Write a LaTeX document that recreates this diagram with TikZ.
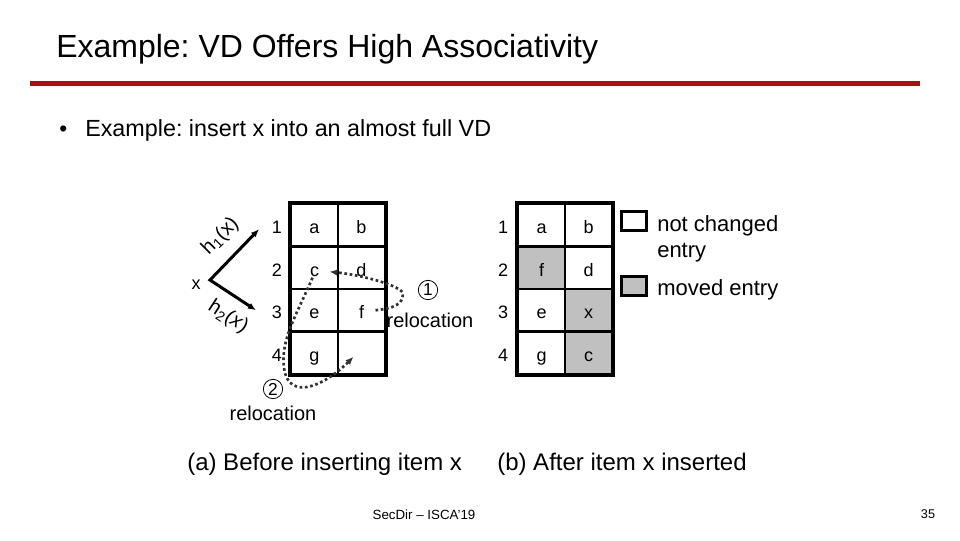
\documentclass[tikz,border=0pt]{standalone}
\usepackage{fontspec}
\setmainfont{Liberation Sans}
\usetikzlibrary{arrows.meta,matrix,calc}
\definecolor{slidered}{RGB}{168,14,20}
\definecolor{moved}{RGB}{192,192,192}
\definecolor{dotgray}{RGB}{50,50,50}
\frenchspacing

\begin{document}
\begin{tikzpicture}[x=0.75pt, y=-0.75pt, inner sep=0pt, >={Latex[length=6pt,width=5pt]},
	tbl/.style={matrix of nodes, nodes in empty cells, column sep=-2pt, row sep=-2pt, nodes={draw, line width=2pt, minimum width=35.25pt, minimum height=31.9pt, anchor=center, font=\fontsize{13.5}{16}\selectfont, text height=13pt, text depth=0pt}},
	rowlbl/.style={font=\fontsize{13.5}{16}\selectfont, text height=13pt, text depth=0pt, anchor=center},
	harrow/.style={<->, line width=2.25pt},
	moveline/.style={->, dotgray, line width=2pt, dotted},
	legbox/.style={draw, line width=2.25pt, minimum width=18.75pt, minimum height=14.25pt},
	legtxt/.style={font=\fontsize{16.5}{20}\selectfont, align=left},
	relabel/.style={font=\fontsize{15}{18}\selectfont},
	circ/.style={draw, circle, line width=0.6pt, minimum size=14.5pt, font=\fontsize{13}{15}\selectfont},
	caption/.style={font=\fontsize{18}{21}\selectfont, anchor=base west}]
	\useasboundingbox (0,0) rectangle (960,540);
	\fill[white] (0,0) rectangle (960,540);
	% title and point
	\node[anchor=base west, font=\fontsize{24}{28}\selectfont] (title) at (56,57) {Example: VD Offers High Associativity};
	\draw[slidered, line width=3.4pt] (30,83.5) -- (920,83.5);
	\node[anchor=base west, font=\fontsize{17}{20}\selectfont] (blt) at (59,136) {•};
	\node[anchor=base west, font=\fontsize{17.5}{20}\selectfont] (point) at (85,136) {Example: insert x into an almost full VD};
	% (a) before
	\matrix (L) [tbl] at (338,289) {
		a & b \\
		c & d \\
		e & f \\
		g & \\
	};
	\draw[line width=3pt] (L-1-1.north west) rectangle (L-4-2.south east);
	\foreach \r in {1,...,4}
		\node[rowlbl] (Ll\r) at ($(L-\r-1.center)+(-37.5,0)$) {\r};
	\node[rowlbl] (item) at (196,281) {x};
	\draw[harrow] ($(Ll1.center)+(-18,4)$) -- ($(item.center)+(14,-1)$) -- ($(Ll3.center)+(-21,0)$);
	\node[rowlbl, font=\fontsize{15}{18}\selectfont, rotate=45] (hone) at (218,234) {h\textsubscript{1}(x)};
	\node[rowlbl, font=\fontsize{15}{18}\selectfont, rotate=-33] (htwo) at (230,314) {h\textsubscript{2}(\textit{x})};
	\draw[moveline] ($(L-3-2.center)+(14,0)$) .. controls +(18,-2) and +(2,12) .. ($(L-3-2.center)+(41,-18)$) .. controls +(-6,-8) and +(30,3) .. ($(L-2-1.center)+(15,4)$);
	\draw[moveline] ($(L-2-1.center)+(-2,10)$) .. controls +(-15,35) and +(0,-25) .. ($(L-4-1.center)+(-31,7)$) .. controls +(0,45) and +(-30,30) .. ($(L-4-2.center)+(-8,4)$);
	\node[circ] (stepA) at (428,290) {1};
	\node[relabel] (relocA) at (430,320) {relocation};
	\node[circ] (stepB) at (273,389) {2};
	\node[relabel] (relocB) at (273,413) {relocation};
	\node[caption] (capA) at (187,470) {(a) Before inserting item x};
	% (b) after
	\matrix (R) [tbl] at (565,289) {
		a & b \\
		|[fill=moved]| f & d \\
		e & |[fill=moved]| x \\
		g & |[fill=moved]| c \\
	};
	\draw[line width=3pt] (R-1-1.north west) rectangle (R-4-2.south east);
	\foreach \r in {1,...,4}
		\node[rowlbl] (Rl\r) at ($(R-\r-1.center)+(-38.5,0)$) {\r};
	\node[caption] (capB) at (497,470) {(b) After item x inserted};
	% legend
	\node[legbox] (keep) at (633.5,220.5) {};
	\node[legbox, fill=moved] (move) at (633.5,286) {};
	\node[legtxt, anchor=north west] (keeptxt) at (657,215) {not changed\\entry};
	\node[legtxt, anchor=base west] (movetxt) at (657,295) {moved entry};
	% footer
	\node[anchor=base, font=\fontsize{10}{12}\selectfont] (foot) at (424,519) {SecDir -- ISCA'19};
	\node[anchor=base, font=\fontsize{9.5}{12}\selectfont] (page) at (928,518) {35};
\end{tikzpicture}
\end{document}
